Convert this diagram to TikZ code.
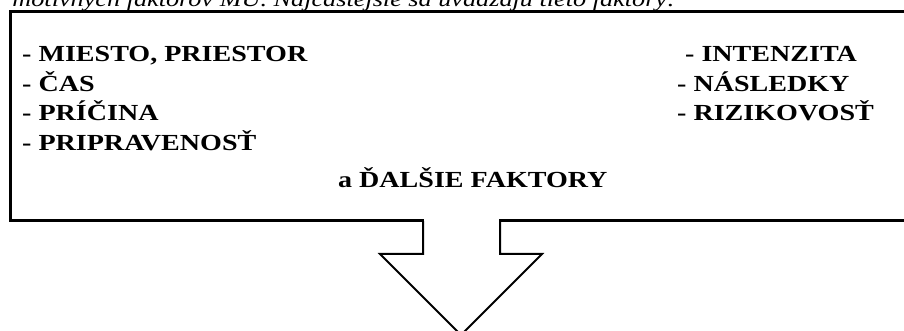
\documentclass[tikz,border=0pt]{standalone}
\usepackage{fontspec}
\setmainfont{Liberation Serif}[FakeStretch=1.22]
\begin{document}
\begin{tikzpicture}[x=1pt,y=1pt,
  item/.style={anchor=base west,inner sep=0pt,font=\fontsize{23}{27}\selectfont\bfseries},
  lead/.style={anchor=base east,inner sep=0pt,font=\fontsize{21.5}{26}\selectfont\itshape},
  frame/.style={line width=3pt,line join=miter},
  arrowline/.style={line width=2pt,line join=miter}]
\useasboundingbox (0,0) rectangle (904,331);
\clip (0,0) rectangle (904,331);

% sentence leading into the box (its upper half lies above the page)
\node[lead] (lead) at (676,324.5) {motivných faktorov MU. Najčastejšie sa uvádzajú tieto faktory:};

% box outline, open to the right
\draw[frame] (930,319) -- (10,319) -- (10,110) -- (424,110);
\draw[frame] (499,110) -- (930,110);
% downward arrow leaving the box
\draw[arrowline] (423,110) -- (423,77) -- (380,77) -- (461,-4) -- (542,77) -- (500,77) -- (500,110);

% left column
\node[item] (a1) at (22,269) {- MIESTO, PRIESTOR};
\node[item] (a2) at (22,239.5) {- ČAS};
\node[item] (a3) at (22,210) {- PRÍČINA};
\node[item] (a4) at (22,180.5) {- PRIPRAVENOSŤ};
% right column
\node[item] (b1) at (685,269) {- INTENZITA};
\node[item] (b2) at (677,239.5) {- NÁSLEDKY};
\node[item] (b3) at (677,210) {- RIZIKOVOSŤ};
% closing line
\node[item] (c1) at (338,143) {a ĎALŠIE FAKTORY};
\end{tikzpicture}
\end{document}
